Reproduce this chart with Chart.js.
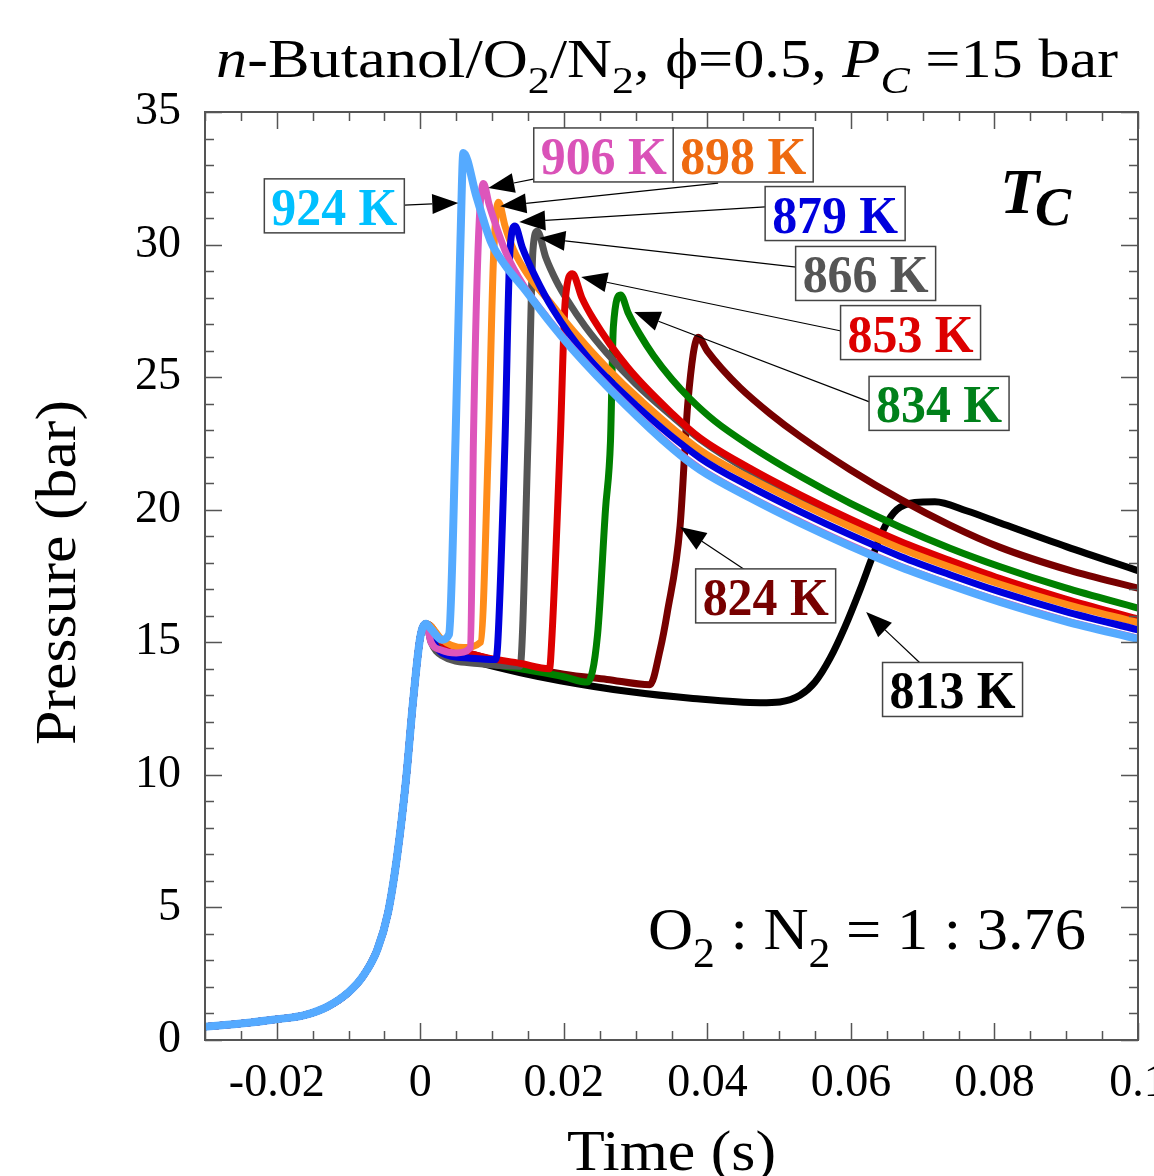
<!DOCTYPE html>
<html>
<head>
<meta charset="utf-8">
<script src="https://cdn.jsdelivr.net/npm/chart.js@4"></script>
<style>
  body { margin: 0; background: #fff; }
  #wrap { width: 1154px; height: 1176px; }
</style>
</head>
<body>
<div id="wrap"><canvas id="pressureChart"></canvas></div>
<script>
// compression stroke, shared by every run (time in s, pressure in bar)
const compTime = [-0.030, -0.025, -0.020, -0.016, -0.013, -0.010, -0.008, -0.006, -0.0045, -0.0032, -0.002, -0.001, 0.0, 0.0008];
const compPres = [0.5, 0.62, 0.78, 0.95, 1.25, 1.8, 2.4, 3.4, 4.8, 7.0, 9.8, 12.8, 15.2, 15.7];

// post compression, per compressed temperature
const t924 = [0.0015, 0.0030, 0.0040, 0.0049, 0.0056, 0.0060, 0.0078, 0.0098, 0.0118, 0.0144, 0.0178, 0.0213, 0.0283, 0.0352, 0.039, 0.046, 0.0529, 0.0599, 0.0669, 0.0738, 0.0808, 0.0898, 0.100];
const p924 = [15.5, 15.1, 15.3, 22.6, 30.2, 33.45, 31.83, 30.13, 29.23, 28.36, 27.16, 26.02, 24.03, 22.29, 21.50, 20.44, 19.50, 18.63, 17.84, 17.16, 16.52, 15.80, 15.12];

const t906 = [0.0015, 0.003, 0.005, 0.0070, 0.0074, 0.0081, 0.0088, 0.0096, 0.0105, 0.0120, 0.0144, 0.0178, 0.0213, 0.0283, 0.0352, 0.039, 0.046, 0.053, 0.060, 0.0669, 0.0738, 0.0808, 0.0898, 0.100];
const p906 = [15.0, 14.7, 14.6, 14.8, 22.6, 30.2, 32.3, 31.5, 30.75, 29.65, 28.45, 27.2, 26.07, 24.08, 22.34, 21.55, 20.48, 19.54, 18.66, 17.87, 17.19, 16.55, 15.83, 15.15];

const t898 = [0.0015, 0.003, 0.006, 0.0084, 0.0095, 0.0102, 0.0109, 0.0118, 0.0130, 0.0150, 0.0180, 0.0213, 0.0260, 0.0306, 0.039, 0.046, 0.053, 0.060, 0.0669, 0.0738, 0.0808, 0.0898, 0.100];
const p898 = [15.6, 15.1, 14.8, 15.0, 22.6, 29.5, 31.6, 30.7, 29.8, 28.85, 27.85, 26.75, 25.35, 24.15, 22.25, 21.18, 20.23, 19.35, 18.54, 17.84, 17.19, 16.45, 15.74];

const t879 = [0.0015, 0.003, 0.007, 0.0105, 0.0108, 0.0118, 0.0125, 0.0132, 0.0142, 0.0160, 0.0185, 0.0230, 0.0300, 0.039, 0.046, 0.053, 0.060, 0.0669, 0.0738, 0.0808, 0.0898, 0.100];
const p879 = [15.2, 14.6, 14.4, 14.35, 15.0, 22.6, 29.8, 30.7, 29.9, 28.8, 27.55, 25.85, 23.95, 21.95, 20.87, 19.92, 19.04, 18.24, 17.55, 16.90, 16.17, 15.47];

const t866 = [0.0015, 0.003, 0.008, 0.0139, 0.0150, 0.0157, 0.0163, 0.0175, 0.0190, 0.0205, 0.0230, 0.0260, 0.0300, 0.0352, 0.039, 0.046, 0.053, 0.060, 0.0669, 0.0738, 0.0808, 0.0898, 0.100];
const p866 = [15.0, 14.5, 14.2, 14.1, 22.6, 29.8, 30.5, 29.5, 28.6, 27.9, 26.9, 25.9, 24.75, 23.5, 22.65, 21.44, 20.45, 19.55, 18.73, 18.01, 17.34, 16.59, 15.83];

const t853 = [0.0015, 0.003, 0.008, 0.014, 0.0180, 0.0183, 0.0195, 0.0202, 0.0212, 0.0225, 0.0241, 0.0288, 0.0352, 0.039, 0.046, 0.053, 0.060, 0.0669, 0.0738, 0.0808, 0.0898, 0.100];
const p853 = [15.5, 15.0, 14.5, 14.2, 14.0, 15.0, 22.6, 27.9, 28.9, 28.0, 27.2, 25.4, 23.6, 22.7, 21.55, 20.55, 19.63, 18.80, 18.08, 17.40, 16.64, 15.88];

const t834 = [0.0015, 0.003, 0.008, 0.014, 0.020, 0.0233, 0.0247, 0.0258, 0.0265, 0.0269, 0.0279, 0.0290, 0.0305, 0.0325, 0.0350, 0.0376, 0.0410, 0.046, 0.053, 0.060, 0.0669, 0.0738, 0.0808, 0.0898, 0.100];
const p834 = [15.3, 14.8, 14.3, 14.0, 13.7, 13.5, 15.3, 20.0, 22.6, 26.9, 28.1, 27.4, 26.65, 25.81, 24.94, 24.18, 23.35, 22.4, 21.25, 20.23, 19.34, 18.55, 17.85, 17.06, 16.29];

const t824 = [0.0015, 0.003, 0.008, 0.014, 0.020, 0.026, 0.0320, 0.0334, 0.0344, 0.0362, 0.0373, 0.0387, 0.0400, 0.0420, 0.0446, 0.0487, 0.0529, 0.0599, 0.0669, 0.0738, 0.0808, 0.0905, 0.100];
const p824 = [15.6, 15.0, 14.5, 14.1, 13.8, 13.6, 13.4, 14.7, 16.1, 19.4, 24.1, 26.5, 25.98, 25.32, 24.59, 23.63, 22.77, 21.51, 20.39, 19.42, 18.58, 17.71, 17.04];

const t813 = [0.0015, 0.003, 0.008, 0.014, 0.0195, 0.0288, 0.038, 0.0474, 0.0501, 0.0529, 0.0550, 0.0571, 0.0592, 0.0613, 0.0631, 0.0648, 0.0664, 0.0689, 0.0717, 0.0762, 0.0808, 0.0901, 0.100];
const p813 = [15.3, 14.7, 14.25, 13.85, 13.55, 13.15, 12.88, 12.72, 12.75, 13.0, 13.5, 14.4, 15.6, 17.0, 18.3, 19.4, 20.0, 20.27, 20.3, 19.95, 19.5, 18.6, 17.7];

const xTicks = [-0.02, 0, 0.02, 0.04, 0.06, 0.08, 0.1];
const xTickLabels = ["-0.02", "0", "0.02", "0.04", "0.06", "0.08", "0.1"];
const yTicks = [0, 5, 10, 15, 20, 25, 30, 35];
const yTickLabels = ["0", "5", "10", "15", "20", "25", "30", "35"];

// callouts: box centre, line start and arrow tip, in data units
const callouts = [
  { text: "924 K", color: "#00C0FF", box: [-0.01198, 31.46], from: [-0.00223, 31.49], tip: [0.00529, 31.57] },
  { text: "906 K", color: "#DA52B8", box: [0.02556, 33.38], from: [0.01574, 32.47], tip: [0.00947, 32.13] },
  { text: "898 K", color: "#EE6A10", box: [0.04499, 33.38], from: [0.0415, 32.32], tip: [0.01114, 31.45] },
  { text: "879 K", color: "#0000DD", box: [0.0578, 31.17], from: [0.04805, 31.42], tip: [0.01379, 30.85] },
  { text: "866 K", color: "#555555", box: [0.06205, 28.91], from: [0.05237, 29.15], tip: [0.01657, 30.25] },
  { text: "853 K", color: "#DD0000", box: [0.06831, 26.68], from: [0.05864, 26.74], tip: [0.02242, 28.78] },
  { text: "834 K", color: "#00801A", box: [0.07228, 24.01], from: [0.06267, 24.06], tip: [0.0298, 27.46] },
  { text: "824 K", color: "#770000", box: [0.04812, 16.75], from: [0.04526, 17.73], tip: [0.03621, 19.35] },
  { text: "813 K", color: "#000000", box: [0.07416, 13.22], from: [0.06978, 14.18], tip: [0.06212, 16.14] },
];

function toPoints(ts, ps) {
  const xs = compTime.concat(ts);
  const ys = compPres.concat(ps);
  return xs.map((x, i) => ({ x: x, y: ys[i] }));
}

function run(label, ts, ps, color, width) {
  return {
    label: label,
    data: toPoints(ts, ps),
    borderColor: color,
    backgroundColor: color,
    borderWidth: width || 7,
    pointRadius: 0,
    cubicInterpolationMode: "monotone",
    fill: false,
  };
}

const SERIF = '"Liberation Serif", "Times New Roman", serif';

// draw a run of text parts squeezed into [x0, x1]
function drawRich(ctx, parts, x0, x1, baseline, size, weight) {
  const fontFor = (p) => `${p.it ? "italic " : ""}${weight || "normal"} ${p.sub ? Math.round(size * 0.7) : size}px ${SERIF}`;
  let w = 0;
  parts.forEach((p) => { ctx.font = fontFor(p); w += ctx.measureText(p.t).width; });
  ctx.save();
  ctx.translate(x0, baseline);
  ctx.scale((x1 - x0) / w, 1);
  ctx.textAlign = "left";
  ctx.textBaseline = "alphabetic";
  let cx = 0;
  parts.forEach((p) => {
    ctx.font = fontFor(p);
    ctx.fillText(p.t, cx, p.sub ? size * 0.3 : 0);
    cx += ctx.measureText(p.t).width;
  });
  ctx.restore();
}

const framePlugin = {
  id: "frame",
  afterDatasetsDraw(chart) {
    const { ctx, chartArea: a, scales: { x, y } } = chart;
    ctx.save();

    // inward ticks on all four sides
    ctx.strokeStyle = "#555";
    ctx.lineWidth = 1.5;
    ctx.beginPath();
    for (let i = -6; i <= 20; i++) {
      const px = Math.round(x.getPixelForValue(i * 0.005)) + 0.5;
      const len = i % 4 === 0 ? 17 : 9;
      ctx.moveTo(px, a.bottom); ctx.lineTo(px, a.bottom - len);
      ctx.moveTo(px, a.top); ctx.lineTo(px, a.top + len);
    }
    for (let i = 0; i <= 35; i++) {
      const py = Math.round(y.getPixelForValue(i)) + 0.5;
      const len = i % 5 === 0 ? 17 : 9;
      ctx.moveTo(a.left, py); ctx.lineTo(a.left + len, py);
      ctx.moveTo(a.right, py); ctx.lineTo(a.right - len, py);
    }
    ctx.stroke();
    ctx.lineWidth = 2;
    ctx.strokeRect(a.left, a.top, a.right - a.left, a.bottom - a.top);

    // callouts
    callouts.forEach((c) => {
      const fx = x.getPixelForValue(c.from[0]), fy = y.getPixelForValue(c.from[1]);
      const tx = x.getPixelForValue(c.tip[0]), ty = y.getPixelForValue(c.tip[1]);
      const ang = Math.atan2(ty - fy, tx - fx);
      const hl = 26, hw = 10;
      const bx = tx - hl * Math.cos(ang), by = ty - hl * Math.sin(ang);
      ctx.strokeStyle = "#000";
      ctx.lineWidth = 1.2;
      ctx.beginPath();
      ctx.moveTo(fx, fy);
      ctx.lineTo(bx, by);
      ctx.stroke();
      ctx.fillStyle = "#000";
      ctx.beginPath();
      ctx.moveTo(tx, ty);
      ctx.lineTo(bx + hw * Math.sin(ang), by - hw * Math.cos(ang));
      ctx.lineTo(bx - hw * Math.sin(ang), by + hw * Math.cos(ang));
      ctx.closePath();
      ctx.fill();

      const cx = x.getPixelForValue(c.box[0]), cy = y.getPixelForValue(c.box[1]);
      const bw = 140, bh = 54;
      ctx.fillStyle = "#fff";
      ctx.fillRect(cx - bw / 2, cy - bh / 2, bw, bh);
      ctx.strokeStyle = "#444";
      ctx.lineWidth = 1.5;
      ctx.strokeRect(cx - bw / 2, cy - bh / 2, bw, bh);
      ctx.fillStyle = c.color;
      drawRich(ctx, [{ t: c.text }], cx - 63, cx + 63, cy + 19, 52, "bold");
    });

    ctx.fillStyle = "#000";
    // T_C
    ctx.textAlign = "left";
    ctx.textBaseline = "alphabetic";
    ctx.font = `italic bold 64px ${SERIF}`;
    ctx.fillText("T", 1000, 213);
    ctx.font = `italic bold 54px ${SERIF}`;
    ctx.fillText("C", 1035, 225);

    // mixture note
    drawRich(ctx, [{ t: "O" }, { t: "2", sub: true }, { t: " : N" }, { t: "2", sub: true }, { t: " = 1 : 3.76" }],
      648, 1086, 949, 60);

    // title
    drawRich(ctx, [
      { t: "n", it: true }, { t: "-Butanol/O" }, { t: "2", sub: true }, { t: "/N" }, { t: "2", sub: true },
      { t: ", \u03D5=0.5, " }, { t: "P", it: true }, { t: "C", it: true, sub: true }, { t: " =15 bar" },
    ], 216, 1118, 77, 54);

    // axis titles
    drawRich(ctx, [{ t: "Time (s)" }], 567, 776, 1170, 56);
    ctx.save();
    ctx.translate(75, 745);
    ctx.rotate(-Math.PI / 2);
    drawRich(ctx, [{ t: "Pressure (bar)" }], 0, 345, 0, 56);
    ctx.restore();

    ctx.restore();
  },
};

const ctxEl = document.getElementById("pressureChart");

new Chart(ctxEl, {
  type: "line",
  data: {
    datasets: [
      run("924 K", t924, p924, "#55AAFF", 8),
      run("906 K", t906, p906, "#DD55BB"),
      run("879 K", t879, p879, "#0000DD"),
      run("898 K", t898, p898, "#FF8C1A"),
      run("853 K", t853, p853, "#DD0000"),
      run("866 K", t866, p866, "#555555"),
      run("834 K", t834, p834, "#008000"),
      run("824 K", t824, p824, "#770000"),
      run("813 K", t813, p813, "#000000"),
    ],
  },
  options: {
    responsive: true,
    maintainAspectRatio: false,
    animation: false,
    layout: { padding: { left: 0, right: 16, top: 112, bottom: 0 } },
    plugins: {
      legend: { display: false },
      tooltip: { enabled: false },
      title: { display: false },
    },
    scales: {
      x: {
        type: "linear",
        min: -0.03,
        max: 0.1,
        grid: { display: false, drawTicks: false },
        border: { display: false },
        afterBuildTicks: (s) => { s.ticks = xTicks.map((v) => ({ value: v })); },
        afterFit: (s) => { s.height = 136; s.paddingLeft = 0; s.paddingRight = 0; },
        ticks: {
          color: "#000",
          padding: 16,
          maxRotation: 0,
          font: { family: SERIF, size: 46 },
          callback: (v) => xTickLabels[xTicks.findIndex((t) => Math.abs(t - v) < 1e-9)],
        },
      },
      y: {
        min: 0,
        max: 35,
        grid: { display: false, drawTicks: false },
        border: { display: false },
        afterBuildTicks: (s) => { s.ticks = yTicks.map((v) => ({ value: v })); },
        afterFit: (s) => { s.width = 205; s.paddingTop = 0; s.paddingBottom = 0; },
        ticks: {
          color: "#000",
          padding: 24,
          font: { family: SERIF, size: 46 },
          callback: (v) => yTickLabels[yTicks.indexOf(v)],
        },
      },
    },
  },
  plugins: [framePlugin],
});
</script>
</body>
</html>
